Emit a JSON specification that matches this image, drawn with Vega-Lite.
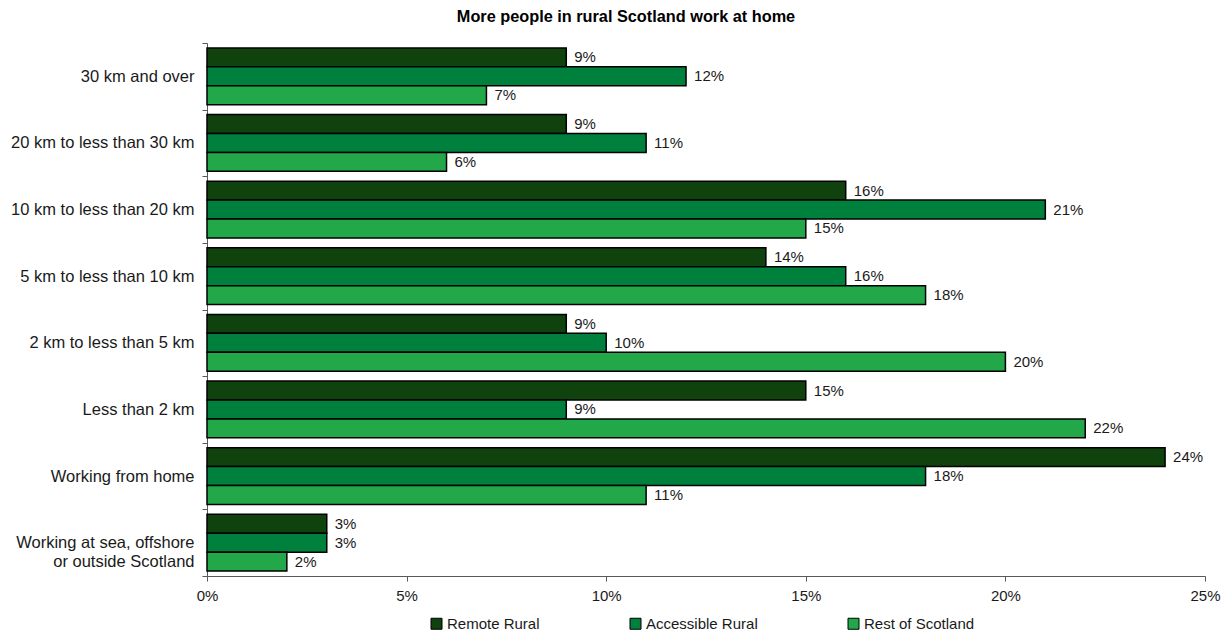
{
  "$schema": "https://vega.github.io/schema/vega-lite/v6.json",
  "width": 998,
  "height": 533,
  "autosize": "none",
  "padding": {"left": 207, "top": 43, "right": 27, "bottom": 60},
  "background": "white",
  "title": {
    "text": "More people in rural Scotland work at home",
    "fontSize": 16.3,
    "fontWeight": "bold",
    "font": "Liberation Sans",
    "color": "#000000",
    "anchor": "middle",
    "dx": -80,
    "offset": 10
  },
  "config": {
    "font": "Liberation Sans",
    "view": {"stroke": null}
  },
  "data": {
    "values": [
      {"distance": "30 km and over", "area": "Remote Rural", "share": 0.09},
      {"distance": "30 km and over", "area": "Accessible Rural", "share": 0.12},
      {"distance": "30 km and over", "area": "Rest of Scotland", "share": 0.07},
      {"distance": "20 km to less than 30 km", "area": "Remote Rural", "share": 0.09},
      {"distance": "20 km to less than 30 km", "area": "Accessible Rural", "share": 0.11},
      {"distance": "20 km to less than 30 km", "area": "Rest of Scotland", "share": 0.06},
      {"distance": "10 km to less than 20 km", "area": "Remote Rural", "share": 0.16},
      {"distance": "10 km to less than 20 km", "area": "Accessible Rural", "share": 0.21},
      {"distance": "10 km to less than 20 km", "area": "Rest of Scotland", "share": 0.15},
      {"distance": "5 km to less than 10 km", "area": "Remote Rural", "share": 0.14},
      {"distance": "5 km to less than 10 km", "area": "Accessible Rural", "share": 0.16},
      {"distance": "5 km to less than 10 km", "area": "Rest of Scotland", "share": 0.18},
      {"distance": "2 km to less than 5 km", "area": "Remote Rural", "share": 0.09},
      {"distance": "2 km to less than 5 km", "area": "Accessible Rural", "share": 0.10},
      {"distance": "2 km to less than 5 km", "area": "Rest of Scotland", "share": 0.20},
      {"distance": "Less than 2 km", "area": "Remote Rural", "share": 0.15},
      {"distance": "Less than 2 km", "area": "Accessible Rural", "share": 0.09},
      {"distance": "Less than 2 km", "area": "Rest of Scotland", "share": 0.22},
      {"distance": "Working from home", "area": "Remote Rural", "share": 0.24},
      {"distance": "Working from home", "area": "Accessible Rural", "share": 0.18},
      {"distance": "Working from home", "area": "Rest of Scotland", "share": 0.11},
      {"distance": "Working at sea, offshore or outside Scotland", "area": "Remote Rural", "share": 0.03},
      {"distance": "Working at sea, offshore or outside Scotland", "area": "Accessible Rural", "share": 0.03},
      {"distance": "Working at sea, offshore or outside Scotland", "area": "Rest of Scotland", "share": 0.02}
    ]
  },
  "encoding": {
    "y": {
      "field": "distance",
      "type": "nominal",
      "sort": null,
      "scale": {"paddingInner": 0, "paddingOuter": 0},
      "axis": {
        "title": null,
        "tickBand": "extent",
        "tickSize": 5,
        "tickColor": "#595959",
        "domainColor": "#595959",
        "labelFontSize": 16.5,
        "labelColor": "#1a1a1a",
        "labelPadding": 8,
        "labelLimit": 300,
        "labelLineHeight": 19,
        "labelExpr": "datum.value == 'Working at sea, offshore or outside Scotland' ? ['Working at sea, offshore', 'or outside Scotland'] : datum.value"
      }
    },
    "yOffset": {
      "field": "area",
      "type": "nominal",
      "sort": ["Remote Rural", "Accessible Rural", "Rest of Scotland"],
      "scale": {"paddingInner": 0, "paddingOuter": 0.26}
    },
    "x": {
      "field": "share",
      "type": "quantitative",
      "scale": {"domain": [0, 0.25]},
      "axis": {
        "title": null,
        "format": ".0%",
        "values": [0, 0.05, 0.1, 0.15, 0.2, 0.25],
        "grid": false,
        "labelFlush": false,
        "tickSize": 5,
        "tickColor": "#595959",
        "domainColor": "#595959",
        "labelFontSize": 15,
        "labelColor": "#1a1a1a",
        "labelPadding": 7
      }
    }
  },
  "layer": [
    {
      "mark": {"type": "bar", "stroke": "#000000", "strokeWidth": 1.5},
      "encoding": {
        "color": {
          "field": "area",
          "type": "nominal",
          "scale": {
            "domain": ["Remote Rural", "Accessible Rural", "Rest of Scotland"],
            "range": ["#10420e", "#00803d", "#22a848"]
          },
          "legend": {
            "title": null,
            "orient": "none",
            "legendX": 222,
            "legendY": 573,
            "direction": "horizontal",
            "symbolType": "square",
            "symbolSize": 121,
            "symbolStrokeColor": "#000000",
            "symbolStrokeWidth": 1,
            "symbolOpacity": 1,
            "labelFontSize": 15,
            "labelColor": "#1a1a1a",
            "labelOffset": 3,
            "columnPadding": 88
          }
        }
      }
    },
    {
      "mark": {"type": "text", "align": "left", "baseline": "middle", "dx": 8, "fontSize": 15, "color": "#1a1a1a"},
      "encoding": {
        "text": {"field": "share", "type": "quantitative", "format": ".0%"}
      }
    }
  ]
}
